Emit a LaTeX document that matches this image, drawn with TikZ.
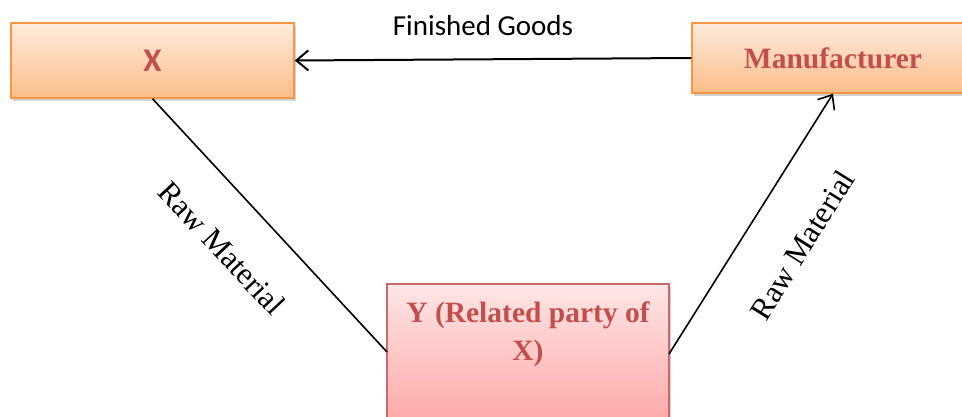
\documentclass[tikz,border=0pt]{standalone}
\usepackage{fontspec}
\setmainfont{Liberation Serif}
\newfontfamily\calibri{Carlito}
\usetikzlibrary{arrows.meta,shadows}
\definecolor{orgborder}{HTML}{F79646}
\definecolor{orgtop}{HTML}{FEEADC}
\definecolor{orgbot}{HTML}{FBBD8A}
\definecolor{redborder}{HTML}{C86A6A}
\definecolor{redtop}{HTML}{FFE6E6}
\definecolor{redbot}{HTML}{FF9C9C}
\definecolor{txtred}{HTML}{C0504D}
\begin{document}
\begin{tikzpicture}[x=1pt,y=-1pt,
  boxbase/.style={line width=1.5pt, inner sep=0pt,
    drop shadow={opacity=0.35,shadow xshift=2pt,shadow yshift=-3pt}},
  orgbox/.style={boxbase, draw=orgborder, top color=orgtop, bottom color=orgbot},
  redbox/.style={boxbase, draw=redborder, top color=redtop, bottom color=redbot},
  boxtext/.style={text=txtred, font=\bfseries\fontsize{29.5}{38}\selectfont},
  lbl/.style={font=\fontsize{31}{34}\selectfont, inner sep=0pt},
  conn/.style={line width=1.6pt},
  arr/.style={conn, -{Straight Barb[length=12pt,width=20pt]}}
]
\useasboundingbox (0,0) rectangle (962,417);
\clip (0,0) rectangle (962,417);
\node[orgbox, minimum width=283pt, minimum height=75pt] (X) at (152.5,60.5)
  {\calibri\bfseries\fontsize{33}{36}\selectfont\textcolor{txtred}{X}};
\node[orgbox, minimum width=282pt, minimum height=70pt] (M) at (833,58) {};
\node[boxtext, inner sep=0pt] (Mt) at (M.center) {Manufacturer};
\node[redbox, minimum width=282pt, minimum height=166pt] (Y) at (528,367) {};
\node[boxtext, align=center, inner sep=0pt, anchor=north] (Yt) at (528,302)
  {Y (Related party of\\X)};
\coordinate (Yl) at (387,352);
\coordinate (Yr) at (669,354);
\draw[arr, line width=2pt] (M.west) -- (X.east);
\draw[conn] (X.south) -- (Yl);
\draw[arr] (Yr) -- (M.south);
\node[lbl, font=\calibri\fontsize{29}{32}\selectfont, anchor=base] (fg) at (483,36) {Finished Goods};
\node[lbl, rotate=-47] (rm1) at (222,248) {Raw Material};
\node[lbl, rotate=58] (rm2) at (802,245) {Raw Material};
\end{tikzpicture}
\end{document}
